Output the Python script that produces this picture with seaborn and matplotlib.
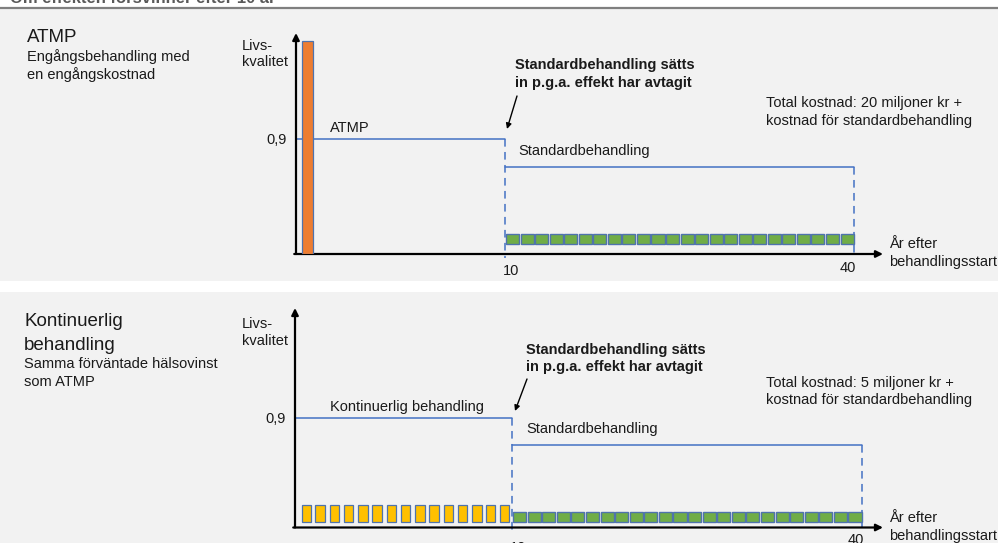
import numpy as np
import pandas as pd
import matplotlib
matplotlib.use("Agg")
import matplotlib.pyplot as plt
from matplotlib.patches import Rectangle
import seaborn as sns

W, H = 998, 543

# ---------------------------------------------------------------- data
tick_years = [10, 40]
tick_labels = ["10", "40"]
qol_ticks = [0.9]
qol_tick_labels = ["0,9"]

effect_years = [0, 10]          # period where the new treatment works
standard_years = [10, 40]       # period on standard treatment afterwards
qol_effect = [0.9, 0.9]
qol_standard = [0.68, 0.68]

# one-off ATMP cost
atmp_dose_years = [0.55]
atmp_dose_heights = [1.667]

# continuous treatment, repeated doses during the first ten years
cont_dose_years = [0.53, 1.15, 1.83, 2.47, 3.13, 3.78, 4.44, 5.09,
                   5.76, 6.41, 7.07, 7.72, 8.38, 9.02, 9.66]
cont_dose_height = 0.14

# standard treatment doses from year 10 to year 40
standard_dose_years = [10.65, 11.9, 13.15, 14.4, 15.65, 16.9, 18.15, 19.4,
                       20.65, 21.9, 23.15, 24.4, 25.65, 26.9, 28.15, 29.4,
                       30.65, 31.9, 33.15, 34.4, 35.65, 36.9, 38.15, 39.4]
standard_dose_height = 0.08

# ---------------------------------------------------------------- style
sns.set_theme(style="white")
plt.rcParams["font.family"] = ["Liberation Sans", "DejaVu Sans"]

BLUE = "#4472c4"
EDGE = "#4f73ad"
ORANGE = "#ed7d31"
YELLOW = "#ffc000"
GREEN = "#70ad47"
TXT = "#1a1a1a"
FS = 10.5

fig = plt.figure(figsize=(W / 100, H / 100), dpi=100)
fig.patch.set_facecolor("white")


def fx(x):
    return x / W


def fy(y):
    return 1 - y / H


def lines_at(x, baselines, lines, **kw):
    kw.setdefault("fontsize", FS)
    kw.setdefault("color", TXT)
    for yb, s in zip(baselines, lines):
        fig.text(fx(x), fy(yb), s, va="baseline", ha="left", **kw)


# panel backgrounds and header rule
fig.add_artist(Rectangle((0, fy(281)), 1, (281 - 9) / H, transform=fig.transFigure,
                         facecolor="#f2f2f2", edgecolor="none", zorder=0))
fig.add_artist(Rectangle((0, 0), 1, (H - 292) / H, transform=fig.transFigure,
                         facecolor="#f2f2f2", edgecolor="none", zorder=0))
fig.add_artist(plt.Line2D([0, 1], [fy(7.5), fy(7.5)], transform=fig.transFigure,
                          color="#7f7f7f", lw=1.6))
fig.text(fx(10), fy(3), "Om effekten försvinner efter 10 år", va="baseline",
         ha="left", fontsize=12, fontweight="bold", color="#595959")


def year_functions(early, late):
    yr = np.array([-100.0, 0.0, 10.0, 300.0])
    u = np.array([-100 * early, 0.0, 10 * early, 10 * early + 290 * late])
    return (lambda x: np.interp(x, yr, u)), (lambda v: np.interp(v, u, yr))


def make_axes(left, right, top, bottom, early, late, xmax, ymax):
    ax = fig.add_axes([fx(left), fy(bottom), (right - left) / W, (bottom - top) / H])
    ax.set_facecolor("none")
    ax.set_xscale("function", functions=year_functions(early, late))
    ax.set_xlim(0, xmax)
    ax.set_ylim(0, ymax)
    for sp in ax.spines.values():
        sp.set_visible(False)
    ax.set_xticks([])
    ax.set_yticks(qol_ticks, labels=qol_tick_labels)
    ax.tick_params(axis="y", length=0, pad=6.5, labelsize=FS, labelcolor=TXT)
    ax.grid(False)
    arrow = dict(arrowstyle="-|>", lw=1.6, color="black", mutation_scale=10,
                 shrinkA=0, shrinkB=0)
    ax.annotate("", xy=(1, 0), xytext=(-0.003, 0), xycoords="axes fraction",
                arrowprops=arrow, annotation_clip=False)
    ax.annotate("", xy=(0, 1), xytext=(0, 0), xycoords="axes fraction",
                arrowprops=arrow, annotation_clip=False)
    return ax


def step_lines(ax):
    df = pd.DataFrame({
        "year": effect_years + standard_years,
        "qol": qol_effect + qol_standard,
        "segment": ["effect"] * 2 + ["standard"] * 2,
    })
    sns.lineplot(data=df, x="year", y="qol", units="segment", estimator=None,
                 color=BLUE, lw=1.1, ax=ax, zorder=2)
    ax.set_xlabel("")
    ax.set_ylabel("")
    dash = (0, (5, 3.5))
    ax.plot([effect_years[1]] * 2, [qol_effect[1], -0.03], color=BLUE, lw=1.1,
            ls=dash, clip_on=False, zorder=2)
    ax.plot([standard_years[1]] * 2, [qol_standard[1], 0], color=BLUE, lw=1.1,
            ls=dash, clip_on=False, zorder=2)


def tick_texts(ax, offsets):
    for yr, lab, (dx, dy), ha in zip(tick_years, tick_labels, offsets, ["left", "right"]):
        ax.annotate(lab, xy=(yr, 0), xycoords=("data", "axes fraction"),
                    xytext=(dx, dy), textcoords="offset pixels", ha=ha,
                    va="baseline", fontsize=FS, color=TXT, annotation_clip=False)


# ================================================================ top panel: ATMP
ax1 = make_axes(296, 883, 33, 254, 20.9, 349 / 30, 42.49, 221 / 127.8)
step_lines(ax1)
ax1.bar(atmp_dose_years, atmp_dose_heights, width=0.53, color=ORANGE,
        edgecolor=EDGE, lw=0.9, zorder=3)
ax1.bar(standard_dose_years, standard_dose_height, width=1.12, bottom=0.078,
        color=GREEN, edgecolor=EDGE, lw=1.0, zorder=3)
tick_texts(ax1, [(-2, -21), (2, -18)])

lines_at(27, [42], ["ATMP"], fontsize=13.5)
lines_at(27, [61, 79], ["Engångsbehandling med", "en engångskostnad"])
lines_at(242, [50, 66.5], ["Livs-", "kvalitet"])
lines_at(330, [131.5], ["ATMP"])
lines_at(515, [69, 87], ["Standardbehandling sätts", "in p.g.a. effekt har avtagit"],
         fontweight="bold")
lines_at(518, [155.5], ["Standardbehandling"])
lines_at(766, [107.5, 125], ["Total kostnad: 20 miljoner kr +",
                             "kostnad för standardbehandling"])
lines_at(889, [248, 266], ["År efter", "behandlingsstart"])
ax1.annotate("", xy=(fx(507), fy(129)), xytext=(fx(517), fy(96)),
             xycoords="figure fraction",
             arrowprops=dict(arrowstyle="-|>", lw=1, color="black",
                             mutation_scale=8, shrinkA=0, shrinkB=0))

# ================================================================ bottom panel: continuous
ax2 = make_axes(295, 883, 308, 527.5, 21.7, 350 / 30, 41.8, 219.5 / 121.7)
step_lines(ax2)
ax2.bar(cont_dose_years, cont_dose_height, width=0.43, bottom=0.045,
        color=YELLOW, edgecolor=EDGE, lw=0.9, zorder=3)
ax2.bar(standard_dose_years, standard_dose_height, width=1.12, bottom=0.045,
        color=GREEN, edgecolor=EDGE, lw=1.0, zorder=3)
tick_texts(ax2, [(-2, -24), (2, -16)])

lines_at(24, [326, 350], ["Kontinuerlig", "behandling"], fontsize=13.5)
lines_at(24, [368, 386], ["Samma förväntade hälsovinst", "som ATMP"])
lines_at(242, [328, 345], ["Livs-", "kvalitet"])
lines_at(330, [411.5], ["Kontinuerlig behandling"])
lines_at(526, [354, 371], ["Standardbehandling sätts", "in p.g.a. effekt har avtagit"],
         fontweight="bold")
lines_at(526, [433], ["Standardbehandling"])
lines_at(766, [386.5, 404], ["Total kostnad: 5 miljoner kr +",
                             "kostnad för standardbehandling"])
lines_at(889, [521.5, 540], ["År efter", "behandlingsstart"])
ax2.annotate("", xy=(fx(515), fy(411)), xytext=(fx(527), fy(379)),
             xycoords="figure fraction",
             arrowprops=dict(arrowstyle="-|>", lw=1, color="black",
                             mutation_scale=8, shrinkA=0, shrinkB=0))

fig.savefig("out.png", dpi=100)
